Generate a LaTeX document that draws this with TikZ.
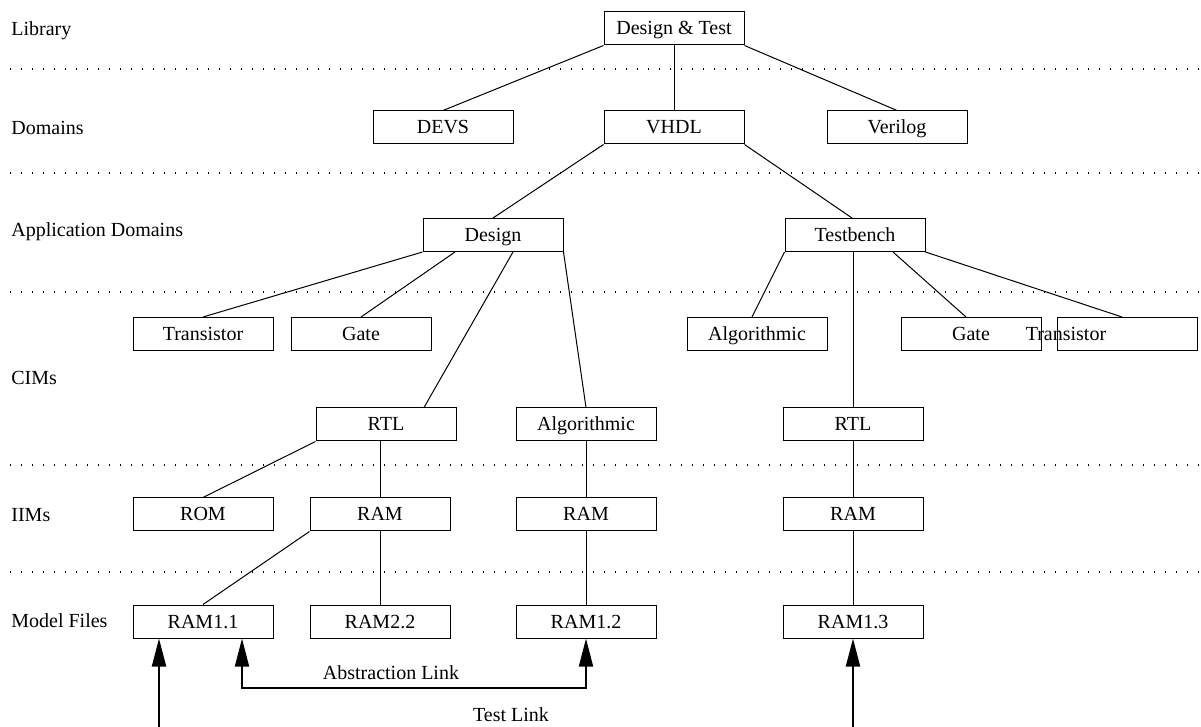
\documentclass[tikz,border=0pt]{standalone}
\usepackage{fontspec}
\setmainfont{Liberation Serif}
\usepackage{tikz}
\usetikzlibrary{arrows.meta}
\tikzset{
  model/.style={
    draw, line width=0.5pt, minimum width=70pt, minimum height=16.5pt,
    inner sep=0pt, text height=7pt, text depth=0.5pt,
    font=\fontsize{10}{12}\selectfont
  },
  layer/.style={anchor=west, inner sep=0pt, text height=7pt, text depth=0.5pt,
    font=\fontsize{10}{12}\selectfont},
  level sep/.style={line width=0.6pt, dash pattern=on 0.6pt off 4.9pt},
  tree/.style={line width=0.5pt},
  abs link/.style={line width=0.8pt, {Triangle[length=14pt,width=7pt]}-{Triangle[length=14pt,width=7pt]}},
  test link/.style={line width=1pt, -{Triangle[length=14pt,width=7pt]}},
  link label/.style={font=\fontsize{10}{12}\selectfont, inner sep=0pt,
    text height=7pt, text depth=0.5pt},
}

\begin{document}
\begin{tikzpicture}[x=0.5pt, y=-0.5pt]
  \useasboundingbox (0,0) rectangle (1201,727);

  % level names
  \node[layer] (lib)  at (11,29)  {Library};
  \node[layer] (dom)  at (11,128) {Domains};
  \node[layer] (app)  at (11,230) {Application Domains};
  \node[layer] (cim)  at (11,378) {CIMs};
  \node[layer] (iim)  at (11,515) {IIMs};
  \node[layer] (mfl)  at (11,621) {Model Files};

  % level separators
  \foreach \y in {69,173,292,465,572}
    \draw[level sep] (10,\y) -- (1201,\y);

  % tree
  \node[model] (DT)   at (674,28.5)  {Design \& Test};
  \node[model] (DEVS) at (443,127.5) {DEVS};
  \node[model] (VHDL) at (674,127.5) {VHDL};
  \node[model] (VLOG) at (897,127.5) {Verilog};

  \node[model] (DES)  at (493,235)   {Design};
  \node[model] (TB)   at (855,235)   {Testbench};

  \node[model] (TR1)  at (203,334)   {Transistor};
  \node[model] (GT1)  at (361,334)   {Gate};
  \node[model] (ALG2) at (757,334)   {Algorithmic};
  \node[model] (GT2)  at (971,334)   {Gate};
  \node[model, label={[font=\fontsize{10}{12}\selectfont, text height=7pt, text depth=0.5pt, xshift=-30.5pt]center:Transistor}] (TR2) at (1127,334) {};

  \node[model] (RTL1) at (386,424.5) {RTL};
  \node[model] (ALG1) at (586,424.5) {Algorithmic};
  \node[model] (RTL2) at (853,424.5) {RTL};

  \node[model] (ROM)  at (203,514.5) {ROM};
  \node[model] (RAM1) at (380,514.5) {RAM};
  \node[model] (RAM2) at (586,514.5) {RAM};
  \node[model] (RAM3) at (853,514.5) {RAM};

  \node[model] (R11)  at (203,621.5) {RAM1.1};
  \node[model] (R22)  at (380,621.5) {RAM2.2};
  \node[model] (R12)  at (586,621.5) {RAM1.2};
  \node[model] (R13)  at (853,621.5) {RAM1.3};

  \draw[tree] (DT.south west) -- (DEVS.north);
  \draw[tree] (DT.south) -- (VHDL.north);
  \draw[tree] (DT.south east) -- (VLOG.north);
  \draw[tree] (VHDL.south west) -- (DES.north);
  \draw[tree] (VHDL.south east) -- ([xshift=-1.5pt]TB.north);

  \draw[tree] (DES.south west) -- (TR1.north);
  \draw[tree] ([xshift=-19pt]DES.south) -- (GT1.north);
  \draw[tree] ([xshift=10pt]DES.south) -- ([xshift=19pt]RTL1.north);
  \draw[tree] (DES.south east) -- (ALG1.north);

  \draw[tree] (TB.south west) -- ([xshift=-2.5pt]ALG2.north);
  \draw[tree] ([xshift=-1pt]TB.south) -- (RTL2.north);
  \draw[tree] ([xshift=19pt]TB.south) -- ([xshift=-2.5pt]GT2.north);
  \draw[tree] (TB.south east) -- ([xshift=-2.5pt]TR2.north);

  \draw[tree] (RTL1.south west) -- (ROM.north);
  \draw[tree] (RAM1.north) -- (RAM1.north |- RTL1.south);
  \draw[tree] (ALG1.south) -- (RAM2.north);
  \draw[tree] (RTL2.south) -- (RAM3.north);

  \draw[tree] (RAM1.south west) -- (R11.north);
  \draw[tree] (RAM1.south) -- (R22.north);
  \draw[tree] (RAM2.south) -- (R12.north);
  \draw[tree] (RAM3.south) -- (R13.north);

  % links
  \coordinate (absbend) at (400,688);
  \draw[abs link] ([xshift=19.5pt]R11.south) |- (absbend) -| (R12.south);
  \node[link label] (abslbl) at (391,673) {Abstraction Link};

  \coordinate (tl1) at (159,727);
  \coordinate (tl2) at (853,727);
  \draw[test link] (tl1) -- (tl1 |- R11.south);
  \draw[test link] (tl2) -- (R13.south);
  \node[link label] (testlbl) at (511,715) {Test Link};
\end{tikzpicture}
\end{document}
